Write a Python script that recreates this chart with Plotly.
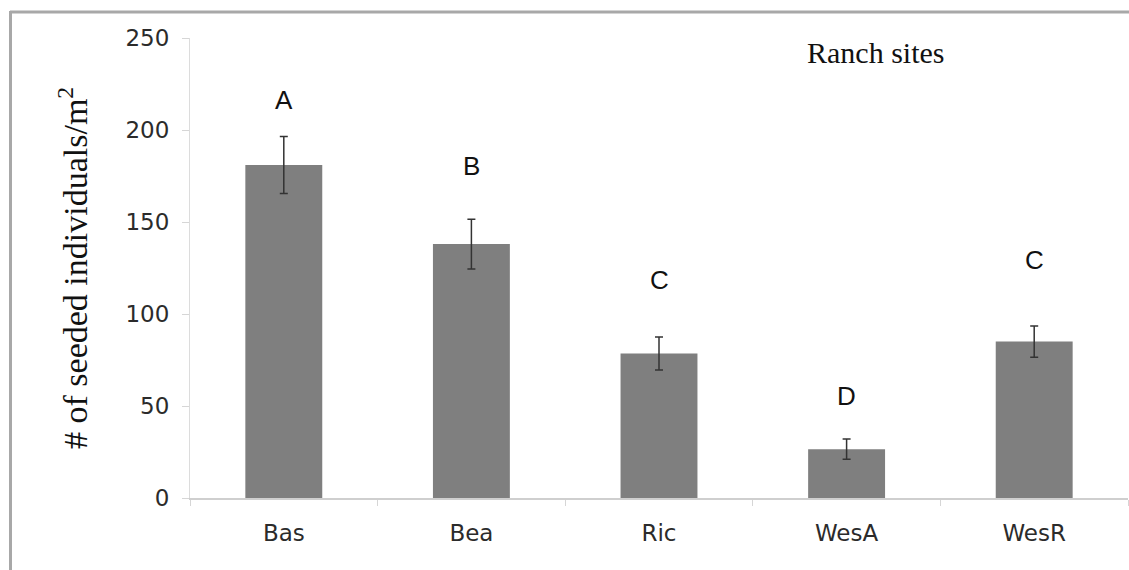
import plotly.graph_objects as go

# Seeded individuals per square metre at each ranch site (mean ± SE)
sites = ["Bas", "Bea", "Ric", "WesA", "WesR"]
means = [181, 138, 78.5, 26.5, 85]
errors = [15.5, 13.5, 9, 5.5, 8.5]
letters = ["A", "B", "C", "D", "C"]
y_ticks = [0, 50, 100, 150, 200, 250]

# Gap between each error-bar top and its significance letter (data units)
letter_gap = [20, 29, 31, 23.5, 36]

W, H = 1129, 570
L, R, T, B = 190, 1, 38, 72
plot_w, plot_h = W - L - R, H - T - B


def px(x):
    return (x - L) / plot_w


def py(y):
    return (H - B - y) / plot_h


fig = go.Figure()
fig.add_trace(go.Bar(
    x=sites, y=means,
    width=0.41,
    marker=dict(color="#7f7f7f", line=dict(width=0)),
    error_y=dict(type="data", array=errors, visible=True,
                 color="#333333", thickness=1.5, width=4),
    showlegend=False,
))

annotations = []
for s, m, e, lab, g in zip(sites, means, errors, letters, letter_gap):
    annotations.append(dict(
        x=s, y=m + e + g, xref="x", yref="y", text=lab, showarrow=False,
        xanchor="center", yanchor="middle",
        font=dict(family="Liberation Sans, Arial", size=26, color="#111111"),
    ))

annotations.append(dict(
    x=px(73), y=0.5, xref="paper", yref="paper", showarrow=False,
    text="# of seeded individuals/m<sup>2</sup>", textangle=-90,
    xanchor="center", yanchor="middle",
    font=dict(family="Liberation Serif, Times New Roman", size=34, color="#111111"),
))
annotations.append(dict(
    x=px(805), y=py(52), xref="paper", yref="paper", showarrow=False,
    text="Ranch sites", xanchor="left", yanchor="middle",
    font=dict(family="Liberation Serif, Times New Roman", size=30, color="#111111"),
))

frame_color = "#a8a8a8"
shapes = [
    dict(type="line", xref="paper", yref="paper",
         x0=px(10), x1=px(W + 5), y0=py(12), y1=py(12),
         line=dict(color=frame_color, width=3)),
    dict(type="line", xref="paper", yref="paper",
         x0=px(10.5), x1=px(10.5), y0=py(11), y1=py(H + 5),
         line=dict(color=frame_color, width=3)),
]

tick_font = dict(family="DejaVu Sans, Verdana", size=23, color="#2b2b2b")

fig.update_layout(
    width=W, height=H,
    margin=dict(l=L, r=R, t=T, b=B),
    paper_bgcolor="white", plot_bgcolor="white",
    annotations=annotations, shapes=shapes,
    xaxis=dict(
        showgrid=False, showline=True, linecolor="#cfcfcf", linewidth=1.5,
        ticks="outside", tickson="boundaries", ticklen=6, tickcolor="#d6d6d6",
        tickfont=tick_font,
        ticklabelstandoff=14,
    ),
    yaxis=dict(
        range=[0, 250], tickvals=y_ticks,
        showgrid=False, zeroline=False, showline=True,
        linecolor="#dcdcdc", linewidth=1,
        ticks="outside", ticklen=7, tickcolor="#d6d6d6",
        tickfont=tick_font,
        ticklabelstandoff=8,
    ),
)

fig.write_html("out.html")
